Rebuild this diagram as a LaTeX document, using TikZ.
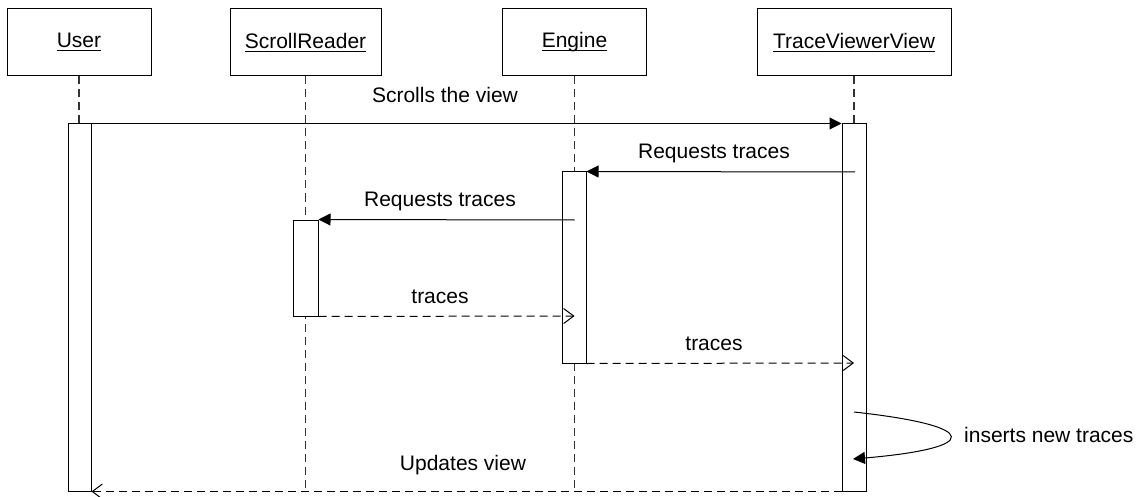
\documentclass[tikz,border=0pt]{standalone}
\usepackage{fontspec}
\setmainfont{Liberation Sans}
\usetikzlibrary{arrows.meta}
\newcommand{\ulbox}[1]{\setbox0\hbox{#1}\rlap{\rule[-3.5pt]{\wd0}{1.3pt}}\box0}
\begin{document}
\begin{tikzpicture}[x=1pt,y=-1pt,
  every node/.style={font=\fontsize{21}{25}\selectfont},
  obj/.style={draw, line width=1pt, minimum height=67pt, inner sep=0pt},
  actbar/.style={draw, fill=white, line width=1pt, minimum width=24pt, inner sep=0pt},
  life/.style={draw=black!80, line width=1.1pt, dash pattern=on 8pt off 5pt},
  msg/.style={line width=1pt, -{Triangle[length=12pt,width=12pt]}},
  reply/.style={line width=1pt, dash pattern=on 8pt off 5pt, -{Straight Barb[length=10pt,width=15pt]}},
  lbl/.style={inner sep=0pt}]
\useasboundingbox (0,0) rectangle (1142,497);
% objects
\node[obj, minimum width=144pt] (user) at (79,42.5) {\ulbox{User}};
\node[obj, minimum width=151pt] (sr) at (305.5,42.5) {\ulbox{ScrollReader}};
\node[obj, minimum width=144pt] (eng) at (574.5,42.5) {\ulbox{Engine}};
\node[obj, minimum width=194pt] (tvv) at (854,42.5) {\ulbox{TraceViewerView}};
% lifeline ends
\coordinate (uend) at (79,124);
\coordinate (send) at (305.5,491);
\coordinate (eend) at (574.5,491);
\coordinate (tend) at (854,124);
\draw[life] (user.south) -- (uend);
\draw[life] (sr.south) -- (send);
\draw[life] (eng.south) -- (eend);
\draw[life] (tvv.south) -- (tend);
% activation bars
\node[actbar, minimum width=23pt, minimum height=367pt] (ubar) at (79.5,307.5) {};
\node[actbar, minimum height=367pt] (tbar) at (854,307.5) {};
\node[actbar, minimum height=191pt] (ebar) at (574,267.5) {};
\node[actbar, minimum width=25pt, minimum height=96pt] (sbar) at (305.5,268) {};
% message anchors
\coordinate (m2s) at (855,172);
\coordinate (m3s) at (574.5,220);
\coordinate (m4e) at (574.5,316);
\coordinate (m5e) at (854,363);
\coordinate (lps) at (854,412);
\coordinate (lpe) at (853,459);
% messages
\draw[msg] (ubar.north east) -- (tbar.north west);
\node[lbl] (l1) at (445,95) {Scrolls the view};
\draw[msg] (m2s) -- (ebar.north east);
\node[lbl] (l2) at (714,153) {Requests traces};
\draw[msg] (m3s) -- (sbar.north east);
\node[lbl] (l3) at (440,201) {Requests traces};
\draw[reply] (sbar.south east) -- (m4e);
\node[lbl] (l4) at (440,297) {traces};
\draw[reply] (ebar.south east) -- (m5e);
\node[lbl] (l5) at (714,344) {traces};
\draw[msg] (lps) .. controls (982,426) and (982,448) .. (lpe);
\node[lbl, anchor=west] (l6) at (964,435) {inserts new traces};
\draw[reply] (tbar.south west) -- (ubar.south east);
\node[lbl] (l7) at (463,465) {Updates view};
\end{tikzpicture}
\end{document}
